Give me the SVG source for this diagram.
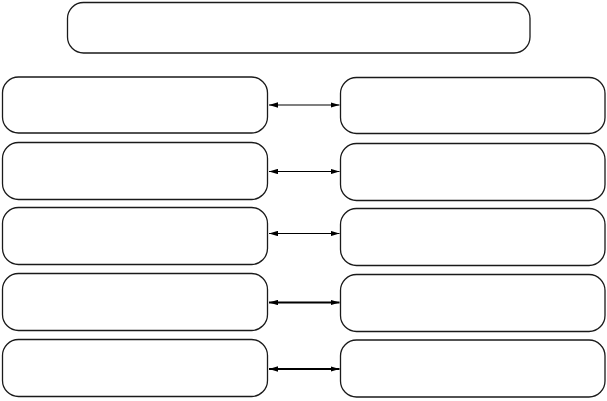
<svg xmlns="http://www.w3.org/2000/svg" width="607" height="401" viewBox="0 0 607 401">
<style>
.box{fill:#fff;stroke:#1a1a1a;stroke-width:1.3}
.c{stroke:#000;stroke-width:1.2;fill:none}
.c2{stroke:#000;stroke-width:2;fill:none}
</style>
<defs>
<marker id="ah" viewBox="0 0 10 6" refX="10" refY="3" markerWidth="9" markerHeight="5.5" markerUnits="userSpaceOnUse" orient="auto-start-reverse">
<path d="M0,0 L10,3 L0,6 Z" fill="#000"/>
</marker>
</defs>
<rect width="607" height="401" fill="#fff"/>
<g id="top"><rect class="box" x="67.5" y="2.5" width="462.5" height="50.5" rx="16"/></g>
<g id="L1"><rect class="box" x="2.5" y="77" width="265" height="56" rx="16"/></g>
<g id="R1"><rect class="box" x="340.5" y="77.5" width="264.5" height="56" rx="16"/></g>
<g id="L2"><rect class="box" x="2.5" y="142.5" width="265" height="57" rx="16"/></g>
<g id="R2"><rect class="box" x="340.5" y="143.5" width="264.5" height="57" rx="16"/></g>
<g id="L3"><rect class="box" x="2.5" y="207.5" width="265" height="57" rx="16"/></g>
<g id="R3"><rect class="box" x="340.5" y="208.5" width="264.5" height="57" rx="16"/></g>
<g id="L4"><rect class="box" x="2.5" y="273.5" width="265" height="57" rx="16"/></g>
<g id="R4"><rect class="box" x="340.5" y="274.5" width="264.5" height="57" rx="16"/></g>
<g id="L5"><rect class="box" x="2.5" y="339.5" width="265" height="57" rx="16"/></g>
<g id="R5"><rect class="box" x="340.5" y="340" width="264.5" height="57" rx="16"/></g>
<g id="connectors">
<line class="c" x1="269" y1="105" x2="339.5" y2="105" marker-start="url(#ah)" marker-end="url(#ah)"/>
<line class="c" x1="269" y1="171.5" x2="339.5" y2="171.5" marker-start="url(#ah)" marker-end="url(#ah)"/>
<line class="c" x1="269" y1="233.5" x2="339.5" y2="233.5" marker-start="url(#ah)" marker-end="url(#ah)"/>
<line class="c2" x1="269" y1="302.5" x2="339.5" y2="302.5" marker-start="url(#ah)" marker-end="url(#ah)"/>
<line class="c2" x1="269" y1="369" x2="339.5" y2="369" marker-start="url(#ah)" marker-end="url(#ah)"/>
</g>
</svg>
